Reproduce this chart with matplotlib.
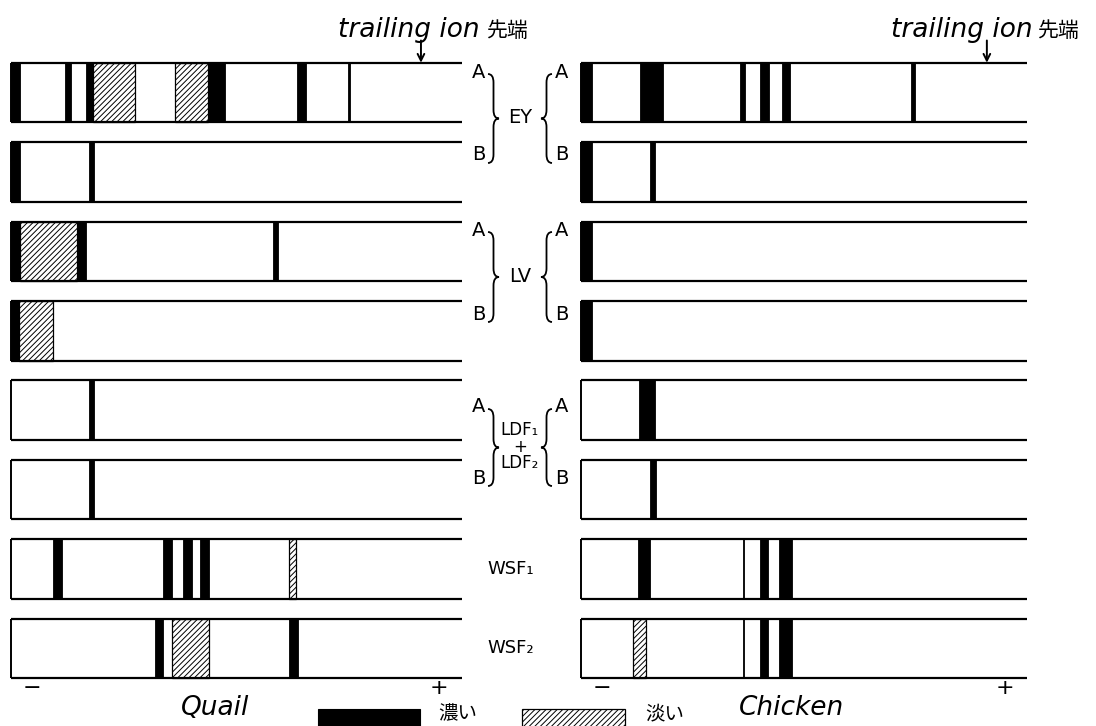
import matplotlib
matplotlib.use('Agg')
import matplotlib.pyplot as plt
from matplotlib.patches import Rectangle, PathPatch
from matplotlib.path import Path

plt.rcParams['font.family'] = ['DejaVu Sans', 'Noto Sans CJK JP']
plt.rcParams['hatch.linewidth'] = 0.7

# ---------------- data (relative mobility, 0 = origin "-" end, 100 = strip end) ---------------
lanes = ['EY-A', 'EY-B', 'LV-A', 'LV-B', 'LDF-A', 'LDF-B', 'WSF1', 'WSF2']

# (lane index, start, end) of dark (濃い) bands
quail_dark = [
    (0, 0.0, 2.0), (0, 12.0, 13.3), (0, 16.6, 18.2), (0, 43.7, 47.5), (0, 63.4, 65.4), (0, 74.7, 75.2),
    (1, 0.0, 2.0), (1, 17.3, 18.4),
    (2, 0.0, 2.0), (2, 14.6, 16.6), (2, 58.1, 59.2),
    (3, 0.0, 1.8),
    (4, 17.3, 18.4),
    (5, 17.3, 18.4),
    (6, 9.3, 11.3), (6, 33.7, 35.7), (6, 38.1, 40.1), (6, 41.9, 43.9),
    (7, 31.9, 33.7), (7, 61.6, 63.6),
]
# (lane index, start, end) of light (淡い) bands
quail_light = [
    (0, 18.2, 27.5), (0, 36.4, 43.7),
    (2, 2.0, 14.6),
    (3, 1.8, 9.3),
    (6, 61.6, 63.2),
    (7, 35.7, 43.9),
]
chicken_dark = [
    (0, 0.0, 2.4), (0, 13.2, 18.4), (0, 35.7, 36.8), (0, 40.1, 42.2), (0, 45.0, 46.9), (0, 74.1, 74.9),
    (1, 0.0, 2.4), (1, 15.5, 16.7),
    (2, 0.0, 2.4),
    (3, 0.0, 2.4),
    (4, 12.9, 16.7),
    (5, 15.5, 16.8),
    (6, 12.7, 15.5), (6, 36.3, 36.6), (6, 40.1, 41.9), (6, 44.4, 47.2),
    (7, 36.3, 36.6), (7, 40.1, 41.9), (7, 44.5, 47.4),
]
chicken_light = [
    (7, 11.6, 14.6),
]
trailing_ion_front = {'Quail': 90.9, 'Chicken': 91.0}

group_labels = ['EY', 'LV', 'LDF₁\n+\nLDF₂']
single_labels = ['WSF₁', 'WSF₂']

# ---------------- layout ----------------
W, H = 1096, 726
fig = plt.figure(figsize=(W / 100, H / 100), dpi=100)
fig.patch.set_facecolor('white')
ov = fig.add_axes([0, 0, 1, 1])
ov.set_xlim(0, W)
ov.set_ylim(H, 0)
ov.axis('off')

STRIP_H = 0.75
Y_TOP_PX, Y_SPAN_PX = 52.8, 635.4
PITCH = Y_SPAN_PX / len(lanes)
HATCH = '//////'


def lane_px(i):
    return Y_TOP_PX + PITCH * (i + 0.5)


def panel(x0, x1, dark, light, front):
    ax = fig.add_axes([x0 / W, (H - Y_TOP_PX - Y_SPAN_PX) / H, (x1 - x0) / W, Y_SPAN_PX / H])
    ax.set_xlim(0, 100)
    ax.set_ylim(len(lanes) - 0.5, -0.5)
    ax.axis('off')
    for i in range(len(lanes)):
        top, bot = i - STRIP_H / 2, i + STRIP_H / 2
        ax.hlines([top, bot], 0, 100, color='black', lw=1.6, clip_on=False)
        ax.vlines(0, top, bot, color='black', lw=1.4, clip_on=False)
    for lane, a, b in light:
        ax.add_patch(Rectangle((a, lane - STRIP_H / 2), b - a, STRIP_H, facecolor='white',
                               edgecolor='black', hatch=HATCH, lw=0.9, clip_on=False))
    for lane, a, b in dark:
        ax.add_patch(Rectangle((a, lane - STRIP_H / 2), b - a, STRIP_H, facecolor='black',
                               edgecolor='black', lw=0.6, clip_on=False))
    ax.annotate('', xy=(front, -STRIP_H / 2), xytext=(front, -STRIP_H / 2 - 0.28),
                arrowprops=dict(arrowstyle='->', color='black', lw=1.4, mutation_scale=12,
                                shrinkA=0, shrinkB=0), annotation_clip=False)
    return ax


axL = panel(11, 462, quail_dark, quail_light, trailing_ion_front['Quail'])
axR = panel(581, 1027, chicken_dark, chicken_light, trailing_ion_front['Chicken'])


def brace(x, y0, y1, w, direction):
    ym = (y0 + y1) / 2
    xm = x + direction * w / 2
    xt = x + direction * w
    r = min(w / 2 + 3, (y1 - y0) / 4)
    verts = [(x, y0), (xm, y0), (xm, y0 + r), (xm, ym - r), (xm, ym), (xt, ym),
             (xm, ym), (xm, ym + r), (xm, y1 - r), (xm, y1), (x, y1)]
    codes = [Path.MOVETO, Path.CURVE3, Path.CURVE3, Path.LINETO, Path.CURVE3, Path.CURVE3,
             Path.CURVE3, Path.CURVE3, Path.LINETO, Path.CURVE3, Path.CURVE3]
    ov.add_patch(PathPatch(Path(verts, codes), fill=False, lw=1.3, color='black'))


lab_kw = dict(ha='center', va='center', fontsize=14, color='black')
# grouped pairs (A / B)
pair_pos = [(72, 155), (230, 314), (407, 478)]
for (ya, yb), glabel in zip(pair_pos, group_labels):
    for xa in (479, 562):
        ov.text(xa, ya, 'A', **lab_kw)
        ov.text(xa, yb, 'B', **lab_kw)
    brace(488, ya + 2, yb + 8, 11, +1)
    brace(552, ya + 2, yb + 8, 11, -1)
    if '\n' in glabel:
        ov.text(520, (ya + yb) / 2 + 4, glabel, ha='center', va='center', fontsize=12,
                linespacing=0.9)
    else:
        ov.text(520, (ya + yb) / 2 + 4, glabel, ha='center', va='center', fontsize=14)
for k, lab in enumerate(single_labels):
    ov.text(511, lane_px(6 + k), lab, ha='center', va='center', fontsize=13)

# top notes
for xt, xc in ((480, 486), (1033, 1037)):
    ov.text(xt, 37, 'trailing ion', ha='right', va='baseline', fontsize=19, style='italic')
    ov.text(xc, 37, '先端', ha='left', va='baseline', fontsize=15,
            family=['Noto Sans CJK JP', 'DejaVu Sans'])

# +/- and species names
for xm_, xp_ in ((32, 439), (602, 1005)):
    ov.text(xm_, 688, '−', ha='center', va='center', fontsize=16)
    ov.text(xp_, 688, '+', ha='center', va='center', fontsize=16)
ov.text(215, 708, 'Quail', ha='center', va='center', fontsize=19, style='italic')
ov.text(792, 708, 'Chicken', ha='center', va='center', fontsize=19, style='italic')

# legend
ov.add_patch(Rectangle((318, 709), 102, 30, facecolor='black', edgecolor='black', lw=0.8))
ov.text(458, 714, '濃い', ha='center', va='center', fontsize=14,
        family=['Noto Sans CJK JP', 'DejaVu Sans'])
ov.add_patch(Rectangle((522, 709), 103, 30, facecolor='white', edgecolor='black', hatch=HATCH, lw=0.9))
ov.text(665, 714, '淡い', ha='center', va='center', fontsize=14,
        family=['Noto Sans CJK JP', 'DejaVu Sans'])

fig.savefig('out.png', dpi=100, facecolor='white')
